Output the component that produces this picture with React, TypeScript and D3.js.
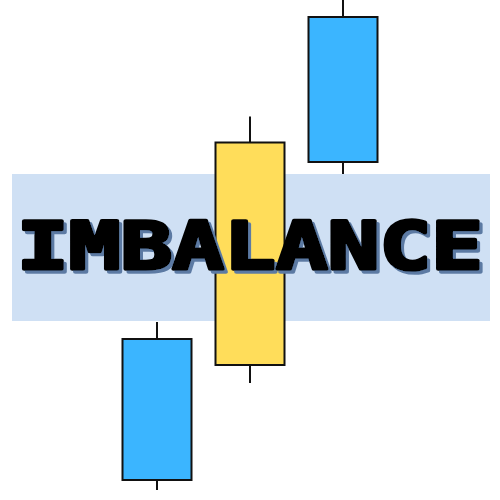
import React, { useEffect, useRef } from 'react';
import * as d3 from 'd3';

// three candles: open, high, low, close (price units)
const candleIds = ['c1', 'c2', 'c3'];
const opens = [32.2, 27, 96.6];
const highs = [35.6, 76.7, 100];
const lows = [2, 23.4, 65.2];
const closes = [4, 71.5, 67.6];
const candleColors = ['#3bb5ff', '#ffdd5a', '#3bb5ff'];

// imbalance zone
const zoneLow = 35.8;
const zoneHigh = 65.2;
const label = 'IMBALANCE';

const W = 500;
const H = 500;

const App: React.FC = () => {
  const svgRef = useRef<SVGSVGElement>(null);

  useEffect(() => {
    if (!svgRef.current) return;
    const svg = d3.select(svgRef.current);
    svg.selectAll('*').remove();

    const y = d3.scaleLinear().domain([0, 100]).range([500, 0]);
    const x = d3.scalePoint<string>().domain(candleIds).range([157, 343]);
    const bodyW = 69;

    // drop shadow for the label
    const f = svg
      .append('defs')
      .append('filter')
      .attr('id', 'shadow')
      .attr('x', '-5%')
      .attr('y', '-20%')
      .attr('width', '110%')
      .attr('height', '140%');
    f.append('feFlood').attr('flood-color', '#5b7aa3').attr('result', 'c');
    f.append('feComposite').attr('in', 'c').attr('in2', 'SourceAlpha').attr('operator', 'in').attr('result', 's');
    f.append('feOffset').attr('in', 's').attr('dx', 3).attr('dy', 3).attr('result', 'o');
    const m = f.append('feMerge');
    m.append('feMergeNode').attr('in', 'o');
    m.append('feMergeNode').attr('in', 'SourceGraphic');

    // zone band
    svg
      .append('rect')
      .attr('x', 12)
      .attr('width', 478)
      .attr('y', y(zoneHigh))
      .attr('height', y(zoneLow) - y(zoneHigh))
      .attr('fill', '#cfe0f4');

    const g = svg.append('g');
    candleIds.forEach((id, i) => {
      const cx = x(id) as number;
      g.append('line')
        .attr('x1', cx)
        .attr('x2', cx)
        .attr('y1', y(highs[i]))
        .attr('y2', y(lows[i]))
        .attr('stroke', '#111')
        .attr('stroke-width', 2);
      const top = y(Math.max(opens[i], closes[i]));
      const bot = y(Math.min(opens[i], closes[i]));
      g.append('rect')
        .attr('x', cx - bodyW / 2)
        .attr('y', top)
        .attr('width', bodyW)
        .attr('height', bot - top)
        .attr('fill', candleColors[i])
        .attr('stroke', '#111')
        .attr('stroke-width', 2);
    });

    svg
      .append('text')
      .attr('x', 17)
      .attr('y', 269)
      .attr('textLength', 466)
      .attr('lengthAdjust', 'spacingAndGlyphs')
      .attr('font-family', '"DejaVu Sans Mono", monospace')
      .attr('font-weight', 'bold')
      .attr('font-size', 66)
      .attr('fill', '#000')
      .attr('stroke', '#000')
      .attr('stroke-width', 3.5)
      .attr('stroke-linejoin', 'round')
      .attr('filter', 'url(#shadow)')
      .text(label);
  }, []);

  return (
    <svg
      ref={svgRef}
      width={W}
      height={H}
      style={{ display: 'block', position: 'absolute', left: 0, top: 0, background: '#fff' }}
    />
  );
};

export default App;
